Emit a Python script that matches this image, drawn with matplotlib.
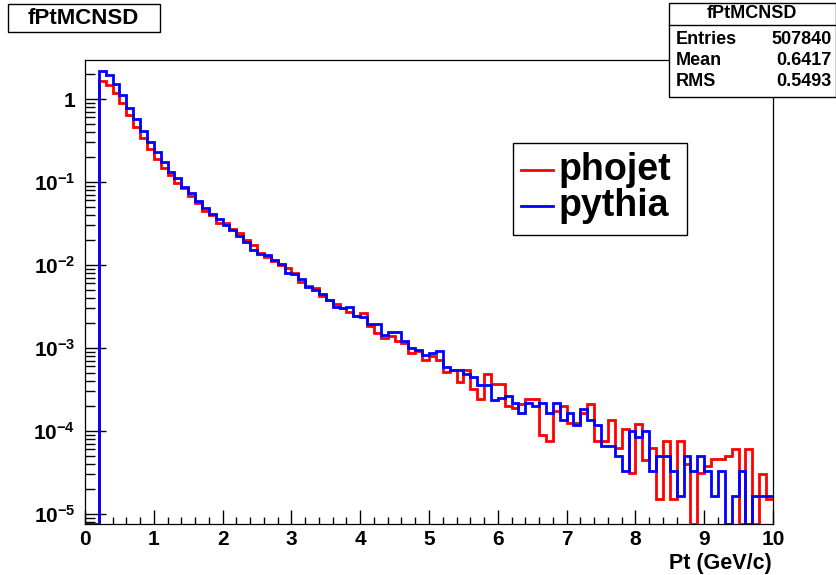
import numpy as np
import matplotlib
matplotlib.use('Agg')
import matplotlib.pyplot as plt
from matplotlib.patches import Rectangle
from matplotlib.lines import Line2D
from matplotlib.ticker import LogLocator, MultipleLocator, FuncFormatter, NullFormatter

# 100 bins of 0.1 GeV/c between 0 and 10
pt_edges = np.linspace(0.0, 10.0, 101)

phojet = [
    0, 0, 1.65, 1.48, 1.17, 0.887, 0.641, 0.465, 0.336, 0.248,
    0.189, 0.146, 0.121, 0.0982, 0.0855, 0.0678, 0.0564, 0.0448, 0.0400, 0.0324,
    0.0318, 0.0275, 0.0240, 0.0200, 0.0174, 0.0138, 0.0126, 0.0112, 0.0100, 0.00933,
    0.00794, 0.00631, 0.00562, 0.00525, 0.00427, 0.00380, 0.00339, 0.00302, 0.00275, 0.00240,
    0.00263, 0.00182, 0.00151, 0.00132, 0.00141, 0.00120, 0.00115, 8.71e-4, 9.12e-4, 7.24e-4,
    7.94e-4, 7.24e-4, 5.13e-4, 5.37e-4, 3.89e-4, 5.37e-4, 3.24e-4, 2.45e-4, 4.90e-4, 3.72e-4,
    3.72e-4, 2.00e-4, 1.91e-4, 2.09e-4, 2.45e-4, 2.45e-4, 8.91e-5, 7.59e-5, 1.74e-4, 2.00e-4,
    1.26e-4, 1.26e-4, 1.66e-4, 2.14e-4, 7.59e-5, 7.59e-5, 1.35e-4, 6.31e-5, 1.07e-4, 3.09e-5,
    1.23e-4, 4.47e-5, 6.17e-5, 1.51e-5, 7.59e-5, 1.51e-5, 7.59e-5, 3.98e-5, 0, 3.16e-5,
    3.80e-5, 4.57e-5, 4.57e-5, 5.00e-5, 6.00e-5, 0, 6.00e-5, 0, 3.00e-5, 1.51e-5,
]

pythia = [
    0, 0, 2.17, 1.95, 1.50, 1.12, 0.773, 0.574, 0.411, 0.306,
    0.232, 0.176, 0.131, 0.111, 0.0879, 0.0729, 0.0596, 0.0482, 0.0411, 0.0355,
    0.0303, 0.0264, 0.0223, 0.0191, 0.0152, 0.0135, 0.0132, 0.0115, 0.0103, 0.00794,
    0.00780, 0.00673, 0.00548, 0.00501, 0.00447, 0.00380, 0.00316, 0.00302, 0.00316, 0.00240,
    0.00234, 0.00195, 0.00195, 0.00145, 0.00158, 0.00158, 0.00120, 0.00100, 9.55e-4, 8.32e-4,
    8.71e-4, 9.12e-4, 5.89e-4, 5.50e-4, 5.37e-4, 4.90e-4, 4.47e-4, 3.55e-4, 3.55e-4, 2.34e-4,
    2.51e-4, 2.63e-4, 2.19e-4, 1.66e-4, 2.19e-4, 2.00e-4, 2.19e-4, 1.66e-4, 2.19e-4, 1.35e-4,
    1.66e-4, 1.17e-4, 1.82e-4, 1.35e-4, 1.17e-4, 6.61e-5, 6.61e-5, 5.01e-5, 3.31e-5, 1.00e-4,
    8.51e-5, 1.00e-4, 3.31e-5, 5.01e-5, 5.01e-5, 3.31e-5, 1.66e-5, 5.01e-5, 3.31e-5, 5.01e-5,
    3.31e-5, 1.66e-5, 3.31e-5, 0, 1.66e-5, 3.31e-5, 0, 1.66e-5, 1.66e-5, 1.66e-5,
]

hist_name = "fPtMCNSD"
stats_labels = ["Entries", "Mean", "RMS"]
stats_values = ["507840", "0.6417", "0.5493"]
legend_labels = ["phojet", "pythia"]
x_title = "Pt (GeV/c)"

y_lo, y_hi = 7.7e-6, 2.95
W, H = 837, 575
FONT = "Liberation Sans"
plt.rcParams["font.family"] = FONT
plt.rcParams["font.weight"] = "bold"
plt.rcParams["mathtext.fontset"] = "custom"
plt.rcParams["mathtext.rm"] = FONT + ":bold"
plt.rcParams["mathtext.bf"] = FONT + ":bold"


def fx(px):
    return px / W


def fy(py):
    return 1.0 - py / H


def pixel_box(fig, x0, y0, x1, y1, lw=1.0):
    fig.add_artist(Rectangle((fx(x0), fy(y1)), fx(x1) - fx(x0), fy(y0) - fy(y1),
                             transform=fig.transFigure, facecolor="white",
                             edgecolor="black", lw=lw, zorder=5))


fig = plt.figure(figsize=(W / 100, H / 100), dpi=100)
ax = fig.add_axes([fx(85), fy(523.5), fx(773) - fx(85), fy(60) - fy(523.5)])

# zero bins are drawn on the floor of the frame, as ROOT does
for vals, col in ((phojet, "#ff0000"), (pythia, "#0000ff")):
    v = np.asarray(vals, dtype=float)
    ax.stairs(np.where(v > 0, v, y_lo), pt_edges, baseline=None,
              color=col, lw=2.0, zorder=3)

ax.set_yscale("log")
ax.set_xlim(0, 10)
ax.set_ylim(y_lo, y_hi)

ax.xaxis.set_major_locator(MultipleLocator(1))
ax.xaxis.set_minor_locator(MultipleLocator(0.2))
ax.yaxis.set_major_locator(LogLocator(base=10, numticks=20))
ax.yaxis.set_minor_locator(LogLocator(base=10, subs=np.arange(2, 10), numticks=20))
ax.yaxis.set_minor_formatter(NullFormatter())


def decade_label(v, pos):
    e = int(round(np.log10(v)))
    return "1" if e == 0 else r"$\mathbf{10^{%d}}$" % e


ax.yaxis.set_major_formatter(FuncFormatter(decade_label))
ax.tick_params(axis="both", which="both", direction="in", top=False, right=False,
               width=1.0, colors="black")
ax.tick_params(axis="x", which="major", length=10, pad=5, labelsize=15)
ax.tick_params(axis="x", which="minor", length=5)
ax.tick_params(axis="y", which="major", length=15, pad=7, labelsize=15)
ax.tick_params(axis="y", which="minor", length=7.5)
for s in ax.spines.values():
    s.set_linewidth(0.9)
    s.set_color("black")

fig.text(fx(772), fy(563), x_title, ha="right", va="center", fontsize=15.5, fontweight="bold")

# title box
pixel_box(fig, 8, 4, 160, 32)
fig.text(fx(83), fy(18.5), hist_name, ha="center", va="center", fontsize=16,
         fontweight="bold", zorder=6)

# statistics box
pixel_box(fig, 669, 3, 836, 97)
fig.add_artist(Line2D([fx(669), fx(836)], [fy(25), fy(25)], transform=fig.transFigure,
                      color="black", lw=1.0, zorder=6))
fig.text(fx(752), fy(14), hist_name, ha="center", va="center", fontsize=13,
         fontweight="bold", zorder=6)
for i, (lab, val) in enumerate(zip(stats_labels, stats_values)):
    yy = fy(39 + 21.5 * i)
    fig.text(fx(676), yy, lab, ha="left", va="center", fontsize=13, fontweight="bold", zorder=6)
    fig.text(fx(832), yy, val, ha="right", va="center", fontsize=13, fontweight="bold", zorder=6)

# legend
pixel_box(fig, 513, 143, 687, 235)
for i, (lab, col) in enumerate(zip(legend_labels, ("#ff0000", "#0000ff"))):
    yy = fy(170 + 36 * i)
    fig.add_artist(Line2D([fx(521), fx(553)], [yy, yy], transform=fig.transFigure,
                          color=col, lw=2.0, zorder=6))
    fig.text(fx(559), yy, lab, ha="left", va="center", fontsize=27, fontweight="bold", zorder=6)

fig.savefig("out.png", dpi=100)
